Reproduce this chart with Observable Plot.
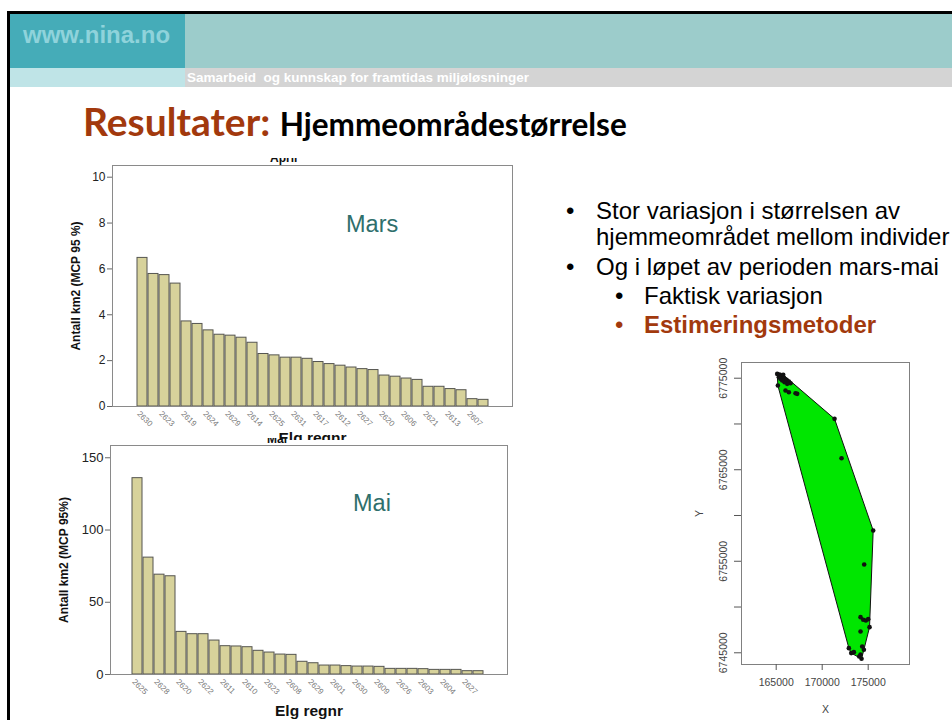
<!DOCTYPE html>
<html><head><meta charset="utf-8">
<script src="https://cdn.jsdelivr.net/npm/d3@7"></script>
<script src="https://cdn.jsdelivr.net/npm/@observablehq/plot@0.6"></script>
<style>
body{margin:0;background:#fff;}
#slide{position:relative;width:952px;height:720px;overflow:hidden;background:#fff;font-family:"Liberation Sans",Arial,sans-serif;}
.abs{position:absolute;}
.clipbox{position:absolute;overflow:hidden;}
</style></head><body>
<div id="slide">
<svg class="abs" style="left:0;top:0" width="952" height="720" font-family="Liberation Sans, Arial, sans-serif">
  <rect x="7" y="11" width="945" height="3" fill="#000"/>
  <rect x="7" y="11" width="3" height="709" fill="#000"/>
  <rect x="10" y="14" width="175" height="54" fill="#45acb8"/>
  <rect x="185" y="14" width="767" height="54" fill="#9ccccb"/>
  <rect x="10" y="68" width="175" height="19" fill="#bfe4e7"/>
  <rect x="185" y="68" width="767" height="19" fill="#d4d4d4"/>
  <text x="23" y="43" font-size="24" font-weight="bold" fill="#8fd3db">www.nina.no</text>
  <text x="187" y="82" font-size="13.5" font-weight="bold" fill="#ffffff" style="white-space:pre">Samarbeid  og kunnskap for framtidas miljøløsninger</text>
  <text x="83" y="136" font-family="Lato, sans-serif" font-weight="bold"><tspan font-size="39" fill="#a2390d">Resultater: </tspan><tspan font-size="31.5" fill="#000">Hjemmeområdestørrelse</tspan></text>
  <g font-size="24" fill="#000">
    <text x="566" y="219">•</text>
    <text x="596" y="219">Stor variasjon i størrelsen av</text>
    <text x="596" y="245">hjemmeområdet mellom individer</text>
    <text x="566" y="275">•</text>
    <text x="596" y="275">Og i løpet av perioden mars-mai</text>
    <text x="615" y="304">•</text>
    <text x="644" y="304">Faktisk variasjon</text>
    <text x="615" y="333" fill="#a2390d">•</text>
    <text x="644" y="333" fill="#a2390d" font-weight="bold">Estimeringsmetoder</text>
  </g>
</svg>
<div id="chartMars" class="abs" style="left:0;top:150px"></div>
<div id="chartMai" class="abs" style="left:0;top:440px"></div>
<div id="chartMcp" class="abs" style="left:680px;top:350px"></div>
<div class="clipbox" style="left:262px;top:158px;width:60px;height:7px"><div style="position:absolute;top:-7px;left:8px;font:bold 12px 'Liberation Sans',Arial,sans-serif;color:#111">April</div></div>
<div class="clipbox" style="left:262px;top:438px;width:40px;height:6px"><div style="position:absolute;top:-6px;left:5px;font:bold 12px 'Liberation Sans',Arial,sans-serif;color:#111">Mai</div></div>
<div class="abs" style="left:346px;top:211px;font:23.5px 'Liberation Sans',Arial,sans-serif;color:#2f6f6c">Mars</div>
<div class="abs" style="left:353px;top:490px;font:23.5px 'Liberation Sans',Arial,sans-serif;color:#2f6f6c">Mai</div>
</div>
<script>
// Top chart (Mars): home-range size per moose, sorted
const marsValues = [6.48,5.78,5.73,5.36,3.71,3.60,3.32,3.13,3.09,3.00,2.78,2.29,2.23,2.13,2.13,2.08,1.94,1.85,1.78,1.70,1.63,1.59,1.35,1.30,1.22,1.16,0.86,0.86,0.76,0.71,0.32,0.29];
const marsTickLabels = ["2630","2623","2619","2624","2629","2614","2625","2631","2617","2612","2627","2620","2606","2621","2613","2607"];
const marsYTicks = [0,2,4,6,8,10];
// Bottom chart (Mai)
const maiValues = [135.9,80.9,69.1,68.0,29.5,27.9,27.9,23.5,19.6,19.4,18.9,16.4,15.2,13.8,13.6,8.8,7.8,6.2,6.2,5.8,5.5,5.5,5.3,3.9,3.9,3.9,3.7,3.2,3.2,3.2,2.3,2.3];
const maiTickLabels = ["2625","2628","2620","2622","2611","2610","2623","2608","2629","2601","2630","2609","2626","2603","2604","2627"];
const maiYTicks = [0,50,100,150];
// MCP locations (UTM X / Y)
const locX = [165109,165362,165580,165761,165290,165471,165833,166123,166377,166558,166196,165906,165652,165181,166014,166377,167283,167101,171341,172102,175543,174565,174167,174457,174746,175000,175145,174167,172899,173152,173442,174348,174529,174167,174276,174022];
const locY = [6775473,6775400,6775291,6775364,6775109,6774927,6775036,6774818,6774636,6774454,6774381,6774563,6774745,6774199,6773653,6773471,6773289,6773362,6770558,6766262,6758361,6754648,6748895,6748604,6748531,6748677,6747803,6747330,6745510,6744964,6745073,6745692,6745328,6744818,6744345,6744599];
const mcpXTicks = [165000,170000,175000];
const mcpYTicks = [6745000,6750000,6755000,6760000,6765000,6770000,6775000];
const mcpYLabelled = [6745000,6755000,6765000,6775000];

const FONT = "Liberation Sans, Arial, sans-serif";

function barChart({values, tickLabels, yTicks, yMax, yLabel, yLabelOffset, yFont, xLabelOffset, width, height, margins, insets}) {
  const data = values.map((v, i) => ({i, v}));
  return Plot.plot({
    width, height,
    marginLeft: margins[0], marginRight: margins[1], marginTop: margins[2], marginBottom: margins[3],
    style: {fontFamily: FONT, background: "transparent"},
    x: {type: "band", domain: d3.range(values.length), padding: 0.12, insetLeft: insets[0], insetRight: insets[1], axis: null},
    y: {domain: [0, yMax], axis: null},
    marks: [
      Plot.barY(data, {x: "i", y: "v", fill: "#d7d29b", stroke: "#555550", strokeWidth: 1}),
      Plot.frame({stroke: "#8a8a8a"}),
      Plot.axisY({ticks: yTicks, tickSize: 5, tickPadding: 2, fontSize: yFont, fill: "#222", stroke: "#666", label: null}),
      Plot.axisY({ticks: [], label: yLabel, labelAnchor: "center", labelArrow: "none", labelOffset: yLabelOffset, fontSize: 12, fontWeight: "bold", fill: "#111"}),
      Plot.axisX({ticks: d3.range(0, values.length, 2), tickFormat: i => tickLabels[i / 2], tickRotate: 45, textAnchor: "start", lineAnchor: "middle", tickSize: 0, tickPadding: 6, dx: -4, fontSize: 8, fill: "#777", label: null}),
      Plot.axisX({ticks: [], label: "Elg regnr", labelAnchor: "center", labelArrow: "none", labelOffset: xLabelOffset, fontSize: 15.5, fontWeight: "bold", fill: "#111"})
    ]
  });
}

document.getElementById("chartMars").append(barChart({
  values: marsValues, tickLabels: marsTickLabels, yTicks: marsYTicks, yMax: 10.51,
  yLabel: "Antall km2 (MCP 95 %)", yLabelOffset: 41, yFont: 12, xLabelOffset: 36,
  width: 520, height: 290, margins: [112, 8, 15, 34], insets: [21, 20]
}));

document.getElementById("chartMai").append(barChart({
  values: maiValues, tickLabels: maiTickLabels, yTicks: maiYTicks, yMax: 158.5,
  yLabel: "Antall km2 (MCP 95%)", yLabelOffset: 51, yFont: 13, xLabelOffset: 41,
  width: 520, height: 280, margins: [110, 13, 5, 46], insets: [18, 20]
}));

const locs = locX.map((x, i) => ({x, y: locY[i]}));
document.getElementById("chartMcp").append(Plot.plot({
  width: 272, height: 370,
  marginLeft: 61, marginRight: 43, marginTop: 12, marginBottom: 56,
  style: {fontFamily: FONT, background: "transparent"},
  x: {domain: [161228, 179489], axis: null},
  y: {domain: [6743721, 6776716], axis: null},
  marks: [
    Plot.frame({stroke: "#808080"}),
    Plot.hull(locs, {x: "x", y: "y", fill: "#00e600", stroke: "#111", strokeWidth: 1}),
    Plot.dot(locs, {x: "x", y: "y", r: 2.3, fill: "#111", stroke: "none"}),
    Plot.axisX({ticks: mcpXTicks, tickFormat: d => String(d), tickSize: 6, tickPadding: 8, fontSize: 10.5, fill: "#444", stroke: "#555", label: "X", labelAnchor: "center", labelArrow: "none", labelOffset: 48}),
    Plot.axisY({ticks: mcpYTicks, tickFormat: d => mcpYLabelled.includes(d) ? String(d) : "", tickSize: 7, tickPadding: 11, tickRotate: -90, textAnchor: "middle", lineAnchor: "middle", fontSize: 10.5, fill: "#444", stroke: "#555", label: "Y", labelAnchor: "center", labelArrow: "none", labelOffset: 46})
  ]
}));
</script>
</body></html>
